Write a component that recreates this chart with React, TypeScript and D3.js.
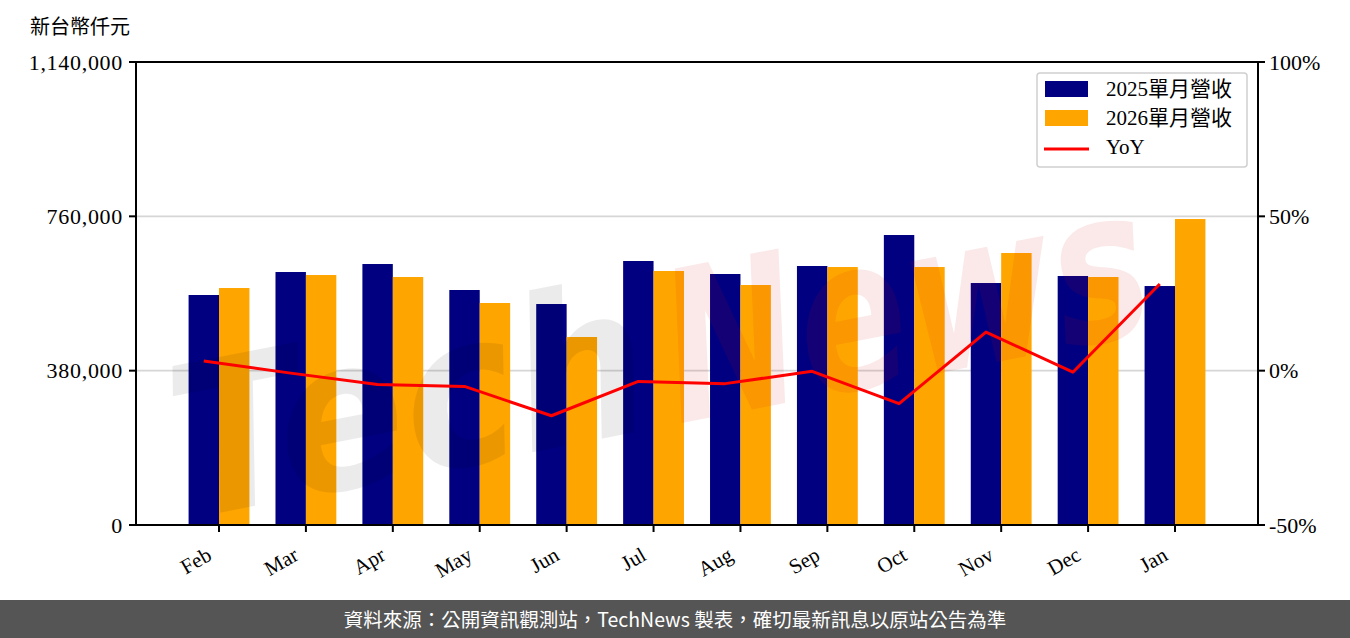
import React from "react";
import * as d3 from "d3";

const months = ["Feb", "Mar", "Apr", "May", "Jun", "Jul", "Aug", "Sep", "Oct", "Nov", "Dec", "Jan"];
const rev2025 = [566300, 622900, 642600, 578600, 544100, 650000, 618000, 637700, 714000, 595800, 613100, 588400];
const rev2026 = [583500, 615500, 610600, 546600, 462900, 625400, 590900, 635200, 635200, 669700, 610600, 753400];
const yoy = [3.1, -0.8, -4.5, -5.1, -14.6, -3.5, -4.2, -0.2, -10.7, 12.5, -0.5, 28.1];
const leftTicks = [0, 380000, 760000, 1140000];
const rightTicks = [-50, 0, 50, 100];
const legendLabels = ["2025單月營收", "2026單月營收", "YoY"];

const W = 1350, H = 638;
const L = 136, R = 1258, T = 62, B = 525;
const serif = "'Liberation Serif', 'DejaVu Serif', 'Noto Sans CJK TC', serif";
const cjk = "'Noto Sans CJK TC', 'Noto Sans', sans-serif";

export default function App() {
  const x = d3.scaleLinear().domain([-0.955, 11.955]).range([L, R]);
  const y = d3.scaleLinear().domain([0, 1140000]).range([B, T]);
  const y2 = d3.scaleLinear().domain([-50, 100]).range([B, T]);
  const bw = 0.35;
  const fmt = d3.format(",");
  const line = d3
    .line<number>()
    .x((_, i) => x(i - 0.175))
    .y((d) => y2(d));

  return (
    <svg width={W} height={H} style={{ position: "absolute", left: 0, top: 0, background: "#fff" }}>
      <rect x={0} y={0} width={W} height={H} fill="#fff" />
      {/* grid */}
      {leftTicks.slice(1, 3).map((t) => (
        <line key={t} x1={L} x2={R} y1={y(t)} y2={y(t)} stroke="#d6d6d6" strokeWidth={1.6} />
      ))}
      {/* bars */}
      {rev2025.map((v, i) => (
        <rect key={"a" + i} x={x(i - bw)} width={x(bw) - x(0)} y={y(v)} height={B - y(v)} fill="#000080" />
      ))}
      {rev2026.map((v, i) => (
        <rect key={"b" + i} x={x(i)} width={x(bw) - x(0)} y={y(v)} height={B - y(v)} fill="#FFA500" />
      ))}
      {/* watermark */}
      <g transform="translate(665,355) rotate(-11)" style={{ pointerEvents: "none" }}>
        <text
          x={-500}
          y={70}
          fontFamily="'DejaVu Sans', sans-serif"
          fontWeight="bold"
          fontStyle="italic"
          fontSize={210}
          textLength={480}
          lengthAdjust="spacingAndGlyphs"
          fill="#000"
          fillOpacity={0.08}
        >
          Tech
        </text>
        <text
          x={0}
          y={70}
          fontFamily="'DejaVu Sans', sans-serif"
          fontWeight="bold"
          fontStyle="italic"
          fontSize={210}
          textLength={490}
          lengthAdjust="spacingAndGlyphs"
          fill="#d01010"
          fillOpacity={0.09}
        >
          News
        </text>
      </g>
      {/* yoy line */}
      <path d={line(yoy) || ""} fill="none" stroke="#ff0000" strokeWidth={3} strokeLinejoin="round" />
      {/* spines */}
      <rect x={L} y={T} width={R - L} height={B - T} fill="none" stroke="#000" strokeWidth={2} />
      {/* left ticks */}
      {leftTicks.map((t) => (
        <g key={t}>
          <line x1={L - 7} x2={L} y1={y(t)} y2={y(t)} stroke="#000" strokeWidth={2} />
          <text x={L - 13} y={y(t)} dy="0.35em" textAnchor="end" fontFamily={serif} fontSize={22} letterSpacing={0.7} fill="#000">
            {fmt(t)}
          </text>
        </g>
      ))}
      {/* right ticks */}
      {rightTicks.map((t) => (
        <g key={t}>
          <line x1={R} x2={R + 7} y1={y2(t)} y2={y2(t)} stroke="#000" strokeWidth={2} />
          <text x={R + 11} y={y2(t)} dy="0.35em" textAnchor="start" fontFamily={serif} fontSize={22} fill="#000">
            {t + "%"}
          </text>
        </g>
      ))}
      {/* bottom ticks */}
      {months.map((m, i) => (
        <g key={m}>
          <line x1={x(i)} x2={x(i)} y1={B} y2={B + 7} stroke="#000" strokeWidth={2} />
          <text
            transform={`translate(${x(i) - 6},${B + 34}) rotate(-30)`}
            textAnchor="end"
            fontFamily={serif}
            fontSize={21}
            fill="#000"
          >
            {m}
          </text>
        </g>
      ))}
      {/* unit label */}
      <text x={30} y={34} fontFamily={cjk} fontSize={20} fill="#000">
        新台幣仟元
      </text>
      {/* legend */}
      <g>
        <rect x={1037} y={73} width={210} height={94} rx={3} fill="#fff" fillOpacity={0.8} stroke="#d0d0d0" strokeWidth={1.5} />
        <rect x={1045} y={81} width={43} height={16} fill="#000080" />
        <rect x={1045} y={110} width={43} height={16} fill="#FFA500" />
        <line x1={1044} x2={1089} y1={149} y2={149} stroke="#ff0000" strokeWidth={3} />
        {legendLabels.map((s, i) => (
          <text key={s} x={1106} y={89 + i * 29} dy="0.35em" fontFamily={serif} fontSize={21} fill="#000">
            {s}
          </text>
        ))}
      </g>
      {/* footer */}
      <rect x={0} y={600} width={W} height={38} fill="#555555" />
      <text x={675} y={620} dy="0.35em" textAnchor="middle" fontFamily={cjk} fontSize={19.5} fill="#fff">
        資料來源：公開資訊觀測站，TechNews 製表，確切最新訊息以原站公告為準
      </text>
    </svg>
  );
}
